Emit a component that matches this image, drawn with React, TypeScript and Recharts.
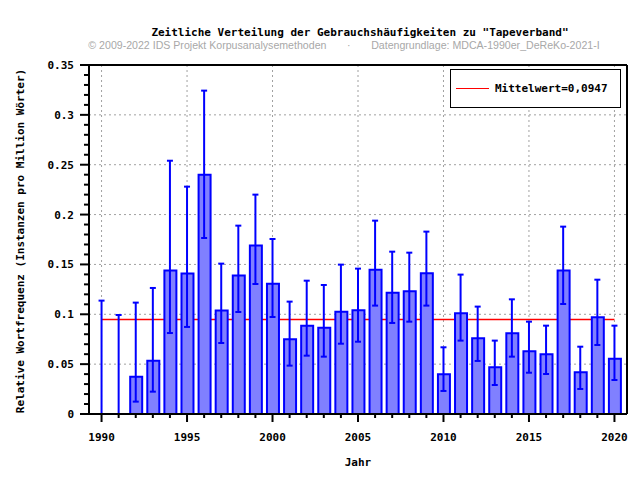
import React from "react";
import {
  ComposedChart,
  Bar,
  Line,
  XAxis,
  YAxis,
  CartesianGrid,
  ErrorBar,
  Legend,
} from "recharts";

const years = [
  1990, 1991, 1992, 1993, 1994, 1995, 1996, 1997, 1998, 1999, 2000, 2001, 2002,
  2003, 2004, 2005, 2006, 2007, 2008, 2009, 2010, 2011, 2012, 2013, 2014, 2015,
  2016, 2017, 2018, 2019, 2020,
];

const frequency = [
  0, 0, 0.0374, 0.0535, 0.1438, 0.1408, 0.24, 0.1037, 0.1388, 0.1689, 0.1307,
  0.0749, 0.0886, 0.0866, 0.1026, 0.104, 0.1447, 0.1217, 0.123, 0.1411, 0.0398,
  0.101, 0.0759, 0.0468, 0.081, 0.0629, 0.0599, 0.1438, 0.0418, 0.097, 0.0555,
];

const lower = [
  0, 0, 0.0124, 0.0224, 0.0812, 0.0873, 0.1765, 0.0712, 0.1023, 0.1304, 0.0973,
  0.0485, 0.0585, 0.0575, 0.0705, 0.0725, 0.1087, 0.0913, 0.0926, 0.1087, 0.0231,
  0.0736, 0.0532, 0.0291, 0.0575, 0.0414, 0.0401, 0.1103, 0.0251, 0.0692, 0.0341,
];

const upper = [
  0.1137, 0.0993, 0.1117, 0.1264, 0.254, 0.228, 0.3243, 0.1508, 0.1889, 0.22,
  0.1755, 0.1127, 0.1337, 0.1294, 0.1498, 0.1458, 0.1939, 0.1628, 0.1618, 0.1829,
  0.0669, 0.1398, 0.1077, 0.0736, 0.115, 0.0926, 0.0886, 0.1879, 0.0675, 0.1347,
  0.0886,
];

const mittelwert = 0.0947;

const yTicks = [
  0, 0.01, 0.02, 0.03, 0.04, 0.05, 0.06, 0.07, 0.08, 0.09, 0.1, 0.11, 0.12, 0.13,
  0.14, 0.15, 0.16, 0.17, 0.18, 0.19, 0.2, 0.21, 0.22, 0.23, 0.24, 0.25, 0.26,
  0.27, 0.28, 0.29, 0.3, 0.31, 0.32, 0.33, 0.34, 0.35,
];
const gridYears = [1990, 1995, 2000, 2005, 2010, 2015, 2020];
const gridValues = [0.05, 0.1, 0.15, 0.2, 0.25, 0.3];

const data = years.map((year, i) => ({
  year,
  value: frequency[i],
  err: [frequency[i] - lower[i], upper[i] - frequency[i]],
  mean: mittelwert,
}));

const MONO = '"DejaVu Sans Mono", "Liberation Mono", monospace';

function YearTick({ x, y, payload }: any) {
  const major = payload.value % 5 === 0;
  return (
    <g>
      <line x1={x} x2={x} y1={y} y2={y + (major ? 8 : 4)} stroke="#000" strokeWidth={2} />
      {major && (
        <text x={x} y={y + 27} textAnchor="middle" fontFamily={MONO} fontWeight="bold" fontSize={11} fill="#000">
          {payload.value}
        </text>
      )}
    </g>
  );
}

function FreqTick({ x, y, payload }: any) {
  const v = Number(payload.value);
  const major = Math.round(v * 100) % 5 === 0;
  return (
    <g>
      <line x1={x - (major ? 9 : 5)} x2={x} y1={y} y2={y} stroke="#000" strokeWidth={2} />
      {major && (
        <text x={x - 15} y={y + 4} textAnchor="end" fontFamily={MONO} fontWeight="bold" fontSize={11} fill="#000">
          {String(parseFloat(v.toFixed(2)))}
        </text>
      )}
    </g>
  );
}

function MeanLegend() {
  return (
    <div
      style={{
        width: 169,
        height: 37,
        border: "1px solid #000",
        background: "#fff",
        display: "flex",
        alignItems: "center",
        fontFamily: MONO,
        fontWeight: "bold",
        fontSize: 11,
      }}
    >
      <div style={{ width: 33, height: 1, background: "#ff0000", marginLeft: 5, marginRight: 6 }} />
      <span>Mittelwert=0,0947</span>
    </div>
  );
}

export default function App() {
  return (
    <div style={{ position: "absolute", left: 0, top: 0, width: 640, height: 480, background: "#fff" }}>
      <div
        style={{
          position: "absolute",
          left: 80,
          width: 560,
          top: 26,
          textAlign: "center",
          fontFamily: MONO,
          fontWeight: "bold",
          fontSize: 11,
          whiteSpace: "pre",
        }}
      >
        Zeitliche Verteilung der Gebrauchshäufigkeiten zu "Tapeverband"
      </div>
      <div
        style={{
          position: "absolute",
          left: 48,
          width: 592,
          top: 39,
          textAlign: "center",
          fontFamily: '"Liberation Sans", Arial, sans-serif',
          fontSize: 10.6,
          color: "#a8a8a8",
          whiteSpace: "pre",
        }}
      >
        {"© 2009-2022 IDS Projekt Korpusanalysemethoden       ·       Datengrundlage: MDCA-1990er_DeReKo-2021-I"}
      </div>
      <div
        style={{
          position: "absolute",
          left: 20,
          top: 241,
          transform: "translate(-50%, -50%) rotate(-90deg)",
          fontFamily: MONO,
          fontWeight: "bold",
          fontSize: 11,
          whiteSpace: "nowrap",
        }}
      >
        Relative Wortfrequenz (Instanzen pro Million Wörter)
      </div>
      <div
        style={{
          position: "absolute",
          left: 89,
          width: 538,
          top: 456,
          textAlign: "center",
          fontFamily: MONO,
          fontWeight: "bold",
          fontSize: 11,
        }}
      >
        Jahr
      </div>
      <ComposedChart
        width={640}
        height={480}
        data={data}
        margin={{ top: 64, right: 12, bottom: 0, left: 0 }}
      >
        <CartesianGrid
          stroke="#a0a0a0"
          strokeDasharray="2 3"
          verticalValues={gridYears}
          horizontalValues={gridValues}
        />
        <XAxis
          dataKey="year"
          height={66}
          interval={0}
          padding={{ left: 4, right: 4 }}
          tickSize={0}
          tickMargin={0}
          tickLine={false}
          tick={<YearTick />}
          axisLine={{ stroke: "#000", strokeWidth: 2 }}
        />
        <XAxis
          xAxisId="top"
          dataKey="year"
          orientation="top"
          height={1}
          padding={{ left: 4, right: 4 }}
          tick={false}
          tickLine={false}
          axisLine={{ stroke: "#000", strokeWidth: 2 }}
        />
        <YAxis
          width={89}
          domain={[0, 0.35]}
          ticks={yTicks}
          interval={0}
          tickSize={0}
          tickMargin={0}
          tickLine={false}
          tick={<FreqTick />}
          axisLine={{ stroke: "#000", strokeWidth: 2 }}
        />
        <YAxis
          yAxisId="right"
          orientation="right"
          width={1}
          domain={[0, 0.35]}
          tick={false}
          tickLine={false}
          axisLine={{ stroke: "#000", strokeWidth: 2 }}
        />
        {/* mean line sits behind the bars */}
        <Line
          dataKey="mean"
          stroke="#ff0000"
          strokeWidth={1.5}
          dot={false}
          activeDot={false}
          isAnimationActive={false}
          zIndex={250}
        />
        <Bar
          dataKey="value"
          fill="#8080ff"
          stroke="#0000ff"
          strokeWidth={2}
          barSize={12}
          isAnimationActive={false}
        />
        {/* invisible carrier so error bars also show for the zero years */}
        <Line
          dataKey="value"
          stroke="none"
          dot={false}
          activeDot={false}
          legendType="none"
          isAnimationActive={false}
        >
          <ErrorBar dataKey="err" direction="y" width={3} stroke="#0000ff" strokeWidth={2} />
        </Line>
        <Legend
          layout="vertical"
          align="center"
          verticalAlign="middle"
          content={<MeanLegend />}
          wrapperStyle={{ position: "absolute", left: 450, top: 69, width: 171, height: 39 }}
        />
      </ComposedChart>
    </div>
  );
}
